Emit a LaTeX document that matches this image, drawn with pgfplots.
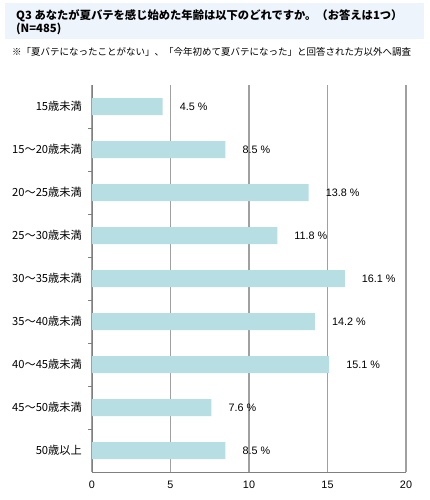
\documentclass[border=0pt]{standalone}
\usepackage{fontspec}
\setmainfont{Liberation Sans}
\newfontfamily\cjk{Noto Sans CJK JP}
\usepackage{pgfplots}
\pgfplotsset{compat=1.18}
\definecolor{barc}{RGB}{183,222,226}
\definecolor{titlebg}{RGB}{238,244,251}
\definecolor{gridc}{RGB}{160,160,160}
\definecolor{axc}{RGB}{128,128,128}
\begin{document}
\begin{tikzpicture}
\path[use as bounding box, fill=white] (0pt,0pt) rectangle (430pt,500pt);
\fill[titlebg] (5pt,461pt) rectangle (424pt,497pt);
\node[anchor=base west, inner sep=0, font=\cjk\bfseries\fontsize{11.3}{13}\selectfont] at (16pt,480.5pt) {Q3 あなたが夏バテを感じ始めた年齢は以下のどれですか。（お答えは1つ）};
\node[anchor=base west, inner sep=0, font=\cjk\bfseries\fontsize{11.3}{13}\selectfont] at (16pt,467.5pt) {(N=485)};
\node[anchor=base west, inner sep=0, font=\cjk\fontsize{9.5}{11}\selectfont] at (12pt,444pt) {※「夏バテになったことがない」、「今年初めて夏バテになった」と回答された方以外へ調査};
\begin{axis}[
  at={(92pt,28pt)}, anchor=south west,
  scale only axis, width=314pt, height=387pt,
  xbar, bar width=17pt,
  xmin=0, xmax=20, ymin=-0.5, ymax=8.5, y dir=reverse,
  xtick={0,5,...,20},
  ytick={0,...,8},
  yticklabels={15歳未満,15～20歳未満,20～25歳未満,25～30歳未満,30～35歳未満,35～40歳未満,40～45歳未満,45～50歳未満,50歳以上},
  minor ytick={0.5,1.5,...,7.5},
  major tick length=0pt, minor tick length=4pt,
  xmajorgrids,
  grid style={color=gridc, line width=1.2pt},
  minor tick style={color=axc, line width=0.8pt},
  axis x line*=bottom, axis y line*=left,
  axis line style={-, color=axc, line width=1pt},
  /pgf/number format/assume math mode=true,
  yticklabel style={font=\cjk\fontsize{11.2}{13}\selectfont, inner sep=0pt, xshift=-10pt},
  xticklabel style={font=\fontsize{10.8}{12}\selectfont, inner sep=0pt, yshift=-9pt},
  point meta=x,
  nodes near coords={\pgfmathprintnumber[fixed,fixed zerofill,precision=1,assume math mode=true]{\pgfplotspointmeta}~\%},
  every node near coord/.append style={anchor=west, inner sep=0pt, xshift=17pt, font=\fontsize{10.8}{12}\selectfont, black},
  clip=false,
]
\addplot[fill=barc, draw=none] coordinates {
(4.5,0) (8.5,1) (13.8,2) (11.8,3) (16.1,4) (14.2,5) (15.1,6) (7.6,7) (8.5,8)
};
\end{axis}
\end{tikzpicture}
\end{document}
